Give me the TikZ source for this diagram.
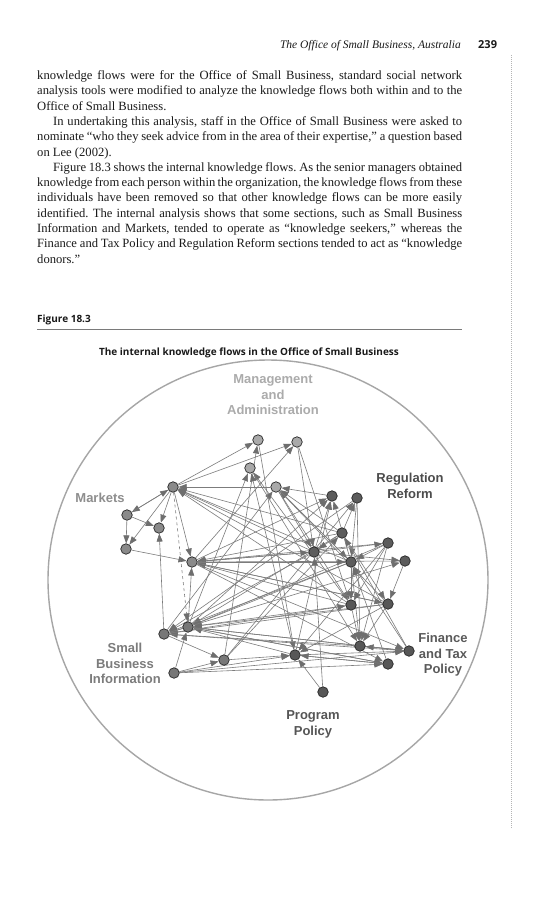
\documentclass[tikz,border=0pt]{standalone}
\usepackage{fontspec}
\setmainfont{Liberation Serif}
\newfontfamily\lblfont{Liberation Sans}
\newfontfamily\capfont{Open Sans}
\usetikzlibrary{arrows.meta}
\definecolor{cMgt}{HTML}{A9A9A9}
\definecolor{cMkt}{HTML}{8A8A8A}
\definecolor{cSbi}{HTML}{777777}
\definecolor{cReg}{HTML}{5C5C5C}
\definecolor{cFin}{HTML}{575757}
\definecolor{cLine}{HTML}{7C7C7C}
\definecolor{cTip}{HTML}{6E6E6E}
\definecolor{cCirc}{HTML}{A6A6A6}
\definecolor{cDot}{HTML}{B4B4B4}
\definecolor{cRule}{HTML}{7A7A7A}
\definecolor{tMgt}{HTML}{ABABAB}
\definecolor{tMkt}{HTML}{8E8E8E}
\definecolor{tSbi}{HTML}{7C7C7C}
\definecolor{tReg}{HTML}{4C4C4C}
\definecolor{tFin}{HTML}{5A5A5A}
\definecolor{tPrg}{HTML}{555555}
\definecolor{tBody}{HTML}{1A1A1A}
\pgfdeclarelayer{bg}
\pgfsetlayers{bg,main}
\newcommand\jline[1]{\hbox to 425pt{#1}}
\newcommand\lline[1]{\hbox to 425pt{#1\hfil}}
\frenchspacing
\begin{document}
\begin{tikzpicture}[x=1pt,y=-1pt,
  pnode/.style={circle, draw=black!85, line width=0.7pt, minimum size=10.5pt, inner sep=0pt},
  mgt/.style={pnode, fill=cMgt},
  mkt/.style={pnode, fill=cMkt},
  sbi/.style={pnode, fill=cSbi},
  reg/.style={pnode, fill=cReg},
  fin/.style={pnode, fill=cFin},
  flow/.style={draw=cLine, line width=0.6pt, -{Triangle[length=8pt,width=6pt,color=cTip]}},
  seclabel/.style={font=\lblfont\bfseries\fontsize{13}{15.5}\selectfont, align=center, inner sep=0pt},
  bodytext/.style={font=\fontsize{12.6}{15.3}\selectfont, text=tBody, inner sep=0pt, anchor=base west}
]
\useasboundingbox (0,0) rectangle (552,900);

% header
\node[inner sep=0pt, anchor=base east, font=\itshape\fontsize{11.5}{14}\selectfont, text=tBody] (runhead) at (461,48.5) {The Office of Small Business, Australia};
\node[inner sep=0pt, anchor=base west, font=\capfont\bfseries\fontsize{11}{13}\selectfont, text=tBody] (pageno) at (478,48.5) {239};
\coordinate (dtop) at (511,55);
\coordinate (dbot) at (511,828);
\draw[cDot, line width=0.6pt, dash pattern=on 0.8pt off 1.2pt] (dtop) -- (dbot);

% body text
\node[bodytext] (body) at (37,79.5) {\vtop{\baselineskip=15.3pt\lineskiplimit=-20pt
\jline{knowledge flows were for the Office of Small Business, standard social network}
\jline{analysis tools were modified to analyze the knowledge flows both within and to the}
\lline{Office of Small Business.}
\jline{\hskip16pt In undertaking this analysis, staff in the Office of Small Business were asked to}
\jline{nominate “who they seek advice from in the area of their expertise,” a question based}
\lline{on Lee (2002).}
\jline{\hskip16pt Figure 18.3 shows the internal knowledge flows. As the senior managers obtained}
\jline{knowledge from each person within the organization, the knowledge flows from these}
\jline{individuals have been removed so that other knowledge flows can be more easily}
\jline{identified. The internal analysis shows that some sections, such as Small Business}
\jline{Information and Markets, tended to operate as “knowledge seekers,” whereas the}
\jline{Finance and Tax Policy and Regulation Reform sections tended to act as “knowledge}
\lline{donors.”}}};

% figure caption
\node[inner sep=0pt, anchor=base west, font=\capfont\bfseries\fontsize{10}{12}\selectfont, text=tBody] (figlabel) at (37,322) {Figure 18.3};
\coordinate (rulel) at (37,329.5);
\coordinate (ruler) at (462,329.5);
\draw[cRule, line width=0.8pt] (rulel) -- (ruler);
\node[inner sep=0pt, anchor=base, font=\capfont\bfseries\fontsize{10}{12}\selectfont, text=tBody] (figtitle) at (249,355) {The internal knowledge flows in the Office of Small Business};

% section labels
\node[seclabel, text=tMgt] (lmgt) at (273,395) {Management\\and\\Administration};
\node[seclabel, text=tReg] (lreg) at (410,486) {Regulation\\Reform};
\node[seclabel, text=tMkt] (lmkt) at (100,498) {Markets};
\node[seclabel, text=tSbi] (lsbi) at (125,663.5) {Small\\Business\\Information};
\node[seclabel, text=tFin] (lfin) at (443,655) {Finance\\and Tax\\Policy};
\node[seclabel, text=tPrg] (lprg) at (313,724.5) {Program\\Policy};

% people
\node[mgt] (m1) at (258,440) {};
\node[mgt] (m2) at (297,442) {};
\node[mgt] (m3) at (250,468) {};
\node[mgt] (m4) at (276,487) {};
\node[mkt] (k1) at (173,487) {};
\node[mkt] (k2) at (127,515) {};
\node[mkt] (k3) at (159,528) {};
\node[mkt] (k4) at (126,549) {};
\node[mkt] (s1) at (192,562) {};
\node[sbi] (s2) at (188,627) {};
\node[sbi] (s3) at (164,634) {};
\node[sbi] (s4) at (224,660) {};
\node[sbi] (s5) at (174,673) {};
\node[reg] (r1) at (332,496) {};
\node[reg] (r2) at (357,498) {};
\node[reg] (r3) at (342,533) {};
\node[reg] (r4) at (388,543) {};
\node[reg] (r5) at (314,552) {};
\node[reg] (r6) at (351,562) {};
\node[reg] (r7) at (405,561) {};
\node[fin] (f1) at (351,605) {};
\node[fin] (f2) at (388,604) {};
\node[fin] (f3) at (360,646) {};
\node[fin] (f4) at (409,651) {};
\node[fin] (f5) at (388,664) {};
\node[fin] (p1) at (295,655) {};
\node[fin] (p2) at (323,692) {};

\begin{pgfonlayer}{bg}
\fill[white] (0,0) rectangle (552,900);
\draw[cCirc, line width=1.4pt] (268,580) circle[radius=220pt];
\foreach \a/\b in {k1/m1, k1/m2, k1/k2, k2/k1, k1/k3, k1/k4, k1/s1, k2/k3, k2/k4, k4/s1, s3/k3,
  m4/k1, r6/k1, r5/k1, f1/k1, r3/k1, f2/k1,
  s4/m1, s1/m2, s2/m3, f1/m3, p1/m3, r6/m4, r3/m4, f2/m4, s3/m4, r1/m4,
  m4/r6, m4/f1, m4/r5, m1/p1, m2/f1, m3/f3, m2/r5,
  r5/r1, p1/r1, s2/r1, s4/r2, r6/r1, r3/r2, s1/r1,
  r3/s1, r4/s1, r6/s1, f1/s1, f2/s1, r7/s1, r5/s1, s1/r5, s1/f2, s1/r6, s1/f5, s1/f4,
  f1/s2, f2/s2, r6/s2, f4/s2, f5/s2, p1/s2, r4/s2, r3/s2,
  r5/s3, f3/s3, r6/s3, f2/s3, s2/s3, r2/s3,
  s3/s4, s3/r7, s3/f1, s3/f4, s2/s1, s2/f4, s2/f5,
  s5/s2, s5/s4, s5/p1, s5/f5, s5/f4, s4/r3, s4/p1,
  r5/r4, r5/r7, r4/r6, r4/f1, r7/f2, r3/r5, r2/r6, r6/f1, r3/f2,
  p1/f4, p1/f5, f4/f3, f5/p1, p2/p1, r4/f3, r6/f3, f1/f3, f2/f3,
  f4/r3, f4/r6, f5/r6, p2/r5, f2/p1, r4/p1, r2/f3}
  \draw[flow] (\a) -- (\b);
\draw[flow, dashed] (k1) -- (s2);
\end{pgfonlayer}
\end{tikzpicture}
\end{document}
